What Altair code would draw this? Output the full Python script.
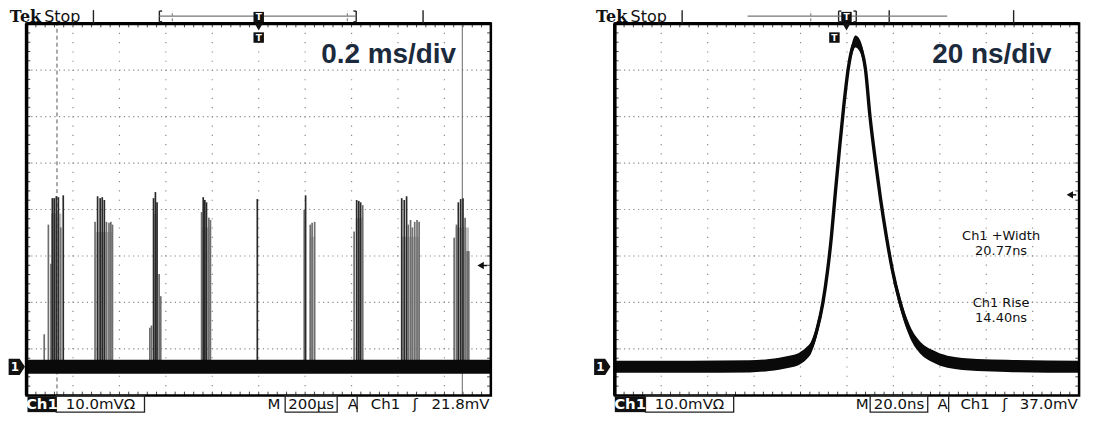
import altair as alt
import pandas as pd

# Left screen: 0.2 ms/div, 10 mV/div. Spikes of the bursts: time (µs from left edge), height (mV above ground)
SPIKE_T_US = [76, 94, 105, 111, 119, 128, 137, 147, 158,
              295, 306, 317, 326, 335, 344, 355, 363, 370,
              531, 538, 547, 555, 562, 571, 578,
              754, 761, 768, 775, 785, 792,
              994,
              1196, 1202, 1222, 1230, 1241,
              1411, 1422, 1431, 1439, 1448,
              1616, 1627, 1637, 1644, 1654, 1662, 1672, 1682, 1691,
              1842, 1852, 1860, 1870, 1880, 1889, 1898, 1905]
SPIKE_MV = [7.0, 30.6, 22.2, 36.3, 36.3, 36.7, 36.5, 30.0, 36.9,
            31.2, 36.7, 36.3, 36.5, 35.9, 31.2, 31.0, 31.2, 30.6,
            8.4, 8.9, 36.3, 37.6, 35.4, 20.0, 15.2,
            33.3, 36.5, 35.9, 35.4, 32.1, 31.6,
            36.1,
            33.8, 36.9, 30.6, 31.0, 31.2,
            29.1, 35.9, 35.7, 35.4, 34.8,
            36.3, 35.9, 36.7, 30.6, 31.6, 30.0, 31.2, 31.6, 31.2,
            27.8, 30.6, 35.4, 36.1, 36.3, 32.1, 24.9, 24.9]
BURST_START_US = [105, 300, 545, 757, 1220, 1418, 1614, 1848]
BURST_END_US = [150, 372, 565, 792, 1242, 1450, 1692, 1906]
BURST_CORE_MV = [33, 29, 33, 30, 28, 32, 28, 30]
SCREEN_US = [0, 2000]
NOISE_MV_L = 1.5
CURSOR_DASHED_US = [131]
CURSOR_SOLID_US = [1877]

# Right screen: 20 ns/div, 10 mV/div. Single pulse: time (ns from left edge), mV above ground
PULSE_T_NS = [0, 32.4, 58.0, 66.5, 75.1, 79.3, 82.7, 84.4, 87.0, 89.6,
              91.6, 93.3, 95.0, 96.7, 98.6, 100.6, 102.3, 103.6, 104.9, 107.9,
              110.0, 112.2, 114.5, 117.0, 119.5, 122.8, 127.1, 131.8, 136.9, 143.3,
              156.1, 168.9, 200.0]
PULSE_MV = [0, 0, 0.1, 0.4, 1.1, 1.7, 3.0, 4.0, 7.8, 13.7,
            20.5, 28.0, 37.5, 46.5, 56.0, 64.3, 68.6, 70.0, 69.6, 64.3,
            53.5, 44.5, 36.0, 28.0, 21.0, 14.0, 7.6, 4.0, 2.3, 1.1,
            0.4, 0.2, 0]
NOISE_MV_R = 1.3

TIME_PER_DIV = {"L": 200.0, "R": 20.0}
MV_PER_DIV = 10.0
TRIG_LEVEL_MV = {"L": 21.8, "R": 37.0}
RATE_LABEL = {"L": "0.2 ms/div", "R": "20 ns/div"}
STATUS_TEXT = {
    "L": ["Ch1", "10.0mVΩ", "M", "200µs", "A", "Ch1", "ʃ", "21.8mV"],
    "R": ["Ch1", "10.0mVΩ", "M", "20.0ns", "A", "Ch1", "ʃ", "37.0mV"],
}
MEAS_TEXT = ["Ch1 +Width", "20.77ns", "Ch1 Rise", "14.40ns"]

# ---------------- layout (in screen divisions) ----------------
W = {"L": 555, "R": 521}
H = 405
PXD_X = 46.6
X_DOM = {"L": [-0.4, -0.4 + W["L"] / PXD_X], "R": [10.02 - W["R"] / PXD_X, 10.02]}
Y_DOM = [-0.384, 8.2985]
GND = 0.615
GRID = "#8a8a8a"

HDR = {
    "L": dict(vlines=[1.44, 8.54], line=(2.86, 7.10), lbr=2.86, rbr=7.10, ticks=[3.14, 6.91],
              mark=5.0, tek=-0.36, stop=0.38, tbox=5.0, gmark=-0.21, label_x=7.8, arrow=9.78),
    "R": dict(vlines=[1.45, 5.91, 8.59], line=(2.86, 7.16), lbr=4.82, rbr=5.20, ticks=[4.22],
              mark=4.99, tek=-0.405, stop=0.34, tbox=4.73, gmark=-0.27, label_x=8.12, arrow=9.8),
}
FOOT = {
    "L": dict(ch=(0.02, 0.64), vbox=(0.64, 2.54), tbox=(5.57, 6.69), bar=7.12,
              xs=[0.33, 1.59, 5.33, 6.13, 7.03, 7.73, 8.37]),
    "R": dict(ch=(0.0, 0.66), vbox=(0.66, 2.56), tbox=(5.5, 6.74), bar=7.19,
              xs=[0.33, 1.61, 5.33, 6.12, 7.06, 7.76, 8.40]),
}


def build(s):
    xsc = alt.Scale(domain=X_DOM[s], nice=False, zero=False)
    ysc = alt.Scale(domain=Y_DOM, nice=False, zero=False)

    def ex(f="x"):
        return alt.X(f"{f}:Q", scale=xsc, axis=None)

    def ey(f="y"):
        return alt.Y(f"{f}:Q", scale=ysc, axis=None)

    def seg(df, **kw):
        return alt.Chart(df).mark_rule(**kw).encode(x=ex(), x2=alt.X2("x2"), y=ey(), y2=alt.Y2("y2"))

    def box(df, **kw):
        return alt.Chart(df).mark_rect(**kw).encode(x=ex(), x2=alt.X2("x2"), y=ey(), y2=alt.Y2("y2"))

    def txt(df, **kw):
        return alt.Chart(df).mark_text(**kw).encode(x=ex(), y=ey(), text="text:N")

    tpd = TIME_PER_DIV[s]
    h = HDR[s]
    f = FOOT[s]
    L = []

    # graticule
    gx = list(range(1, 10))
    L.append(seg(pd.DataFrame({"x": gx, "x2": gx, "y": [0] * 9, "y2": [8] * 9}),
                 color=GRID, strokeWidth=1.2, strokeDash=[1.2, 8.1]))
    gy = list(range(1, 8))
    L.append(seg(pd.DataFrame({"x": [0] * 7, "x2": [10] * 7, "y": gy, "y2": gy}),
                 color=GRID, strokeWidth=1.2, strokeDash=[1.2, 3.45]))
    rows = []
    for k in range(1, 50):
        xk = k * 0.2
        rows += [(xk, xk, 8, 7.92), (xk, xk, 0, 0.08)]
    for k in range(1, 40):
        yk = k * 0.2
        rows += [(0, 0.08, yk, yk), (9.92, 10, yk, yk)]
    L.append(seg(pd.DataFrame(rows, columns=["x", "x2", "y", "y2"]), color="#444", strokeWidth=1))

    # signal
    if s == "L":
        L.append(seg(pd.DataFrame({"t": CURSOR_DASHED_US})
                     .assign(y=0, y2=8)
                     .pipe(lambda d: d.assign(x=d.t / tpd, x2=d.t / tpd)),
                     color="#555", strokeWidth=1, strokeDash=[4, 3]))
        L.append(seg(pd.DataFrame({"t": CURSOR_SOLID_US})
                     .assign(y=0, y2=8)
                     .pipe(lambda d: d.assign(x=d.t / tpd, x2=d.t / tpd)),
                     color="#666", strokeWidth=1))
        L.append(alt.Chart(pd.DataFrame({"t0": BURST_START_US, "t1": BURST_END_US, "mv": BURST_CORE_MV}))
                 .transform_calculate(x=f"datum.t0/{tpd}", x2=f"datum.t1/{tpd}",
                                      y=f"{GND}", y2=f"{GND}+datum.mv/{MV_PER_DIV}")
                 .mark_rect(color="#8a8a8a", opacity=0.55)
                 .encode(x=ex(), x2=alt.X2("x2"), y=ey(), y2=alt.Y2("y2")))
        L.append(alt.Chart(pd.DataFrame({"t": SPIKE_T_US, "mv": SPIKE_MV}))
                 .transform_calculate(x=f"datum.t/{tpd}", y=f"{GND}+datum.mv/{MV_PER_DIV}", y2=f"{GND}")
                 .mark_rule(strokeWidth=1.7)
                 .encode(x=ex(), y=ey(), y2=alt.Y2("y2"),
                         color=alt.when(alt.datum.mv >= 35).then(alt.value("#2a2a2a"))
                         .otherwise(alt.value("#6e6e6e"))))
        L.append(alt.Chart(pd.DataFrame({"t0": [SCREEN_US[0]], "t1": [SCREEN_US[1]]}))
                 .transform_calculate(x=f"datum.t0/{tpd}", x2=f"datum.t1/{tpd}",
                                      y=f"{GND}-{NOISE_MV_L}/{MV_PER_DIV}",
                                      y2=f"{GND}+{NOISE_MV_L}/{MV_PER_DIV}")
                 .mark_rect(color="#0a0a0a")
                 .encode(x=ex(), x2=alt.X2("x2"), y=ey(), y2=alt.Y2("y2")))
    else:
        pdf = pd.DataFrame({"t": PULSE_T_NS, "mv": PULSE_MV})
        L.append(alt.Chart(pdf)
                 .transform_calculate(x=f"datum.t/{tpd}",
                                      y=f"{GND}+(datum.mv-{NOISE_MV_R})/{MV_PER_DIV}",
                                      y2=f"{GND}+(datum.mv+{NOISE_MV_R})/{MV_PER_DIV}")
                 .mark_area(color="#0a0a0a", interpolate="monotone")
                 .encode(x=ex(), y=ey(), y2=alt.Y2("y2")))
        L.append(alt.Chart(pdf)
                 .transform_calculate(x=f"datum.t/{tpd}", y=f"{GND}+datum.mv/{MV_PER_DIV}")
                 .mark_line(color="#0a0a0a", strokeWidth=3.4, interpolate="monotone")
                 .encode(x=ex(), y=ey()))
        mdf = pd.DataFrame({"x": [8.32] * 4, "y": [3.43, 3.10, 1.99, 1.66], "text": MEAS_TEXT})
        L.append(txt(mdf, font="DejaVu Sans", fontSize=13, color="#111", align="center", baseline="middle"))

    # frame
    L.append(box(pd.DataFrame({"x": [0], "x2": [10], "y": [0], "y2": [8]}),
                 fillOpacity=0, stroke="black", strokeWidth=2.5))
    L.append(seg(pd.DataFrame({"x": [0, 0], "x2": [10, 0], "y": [8, 0], "y2": [8, 8]}),
                 color="black", strokeWidth=3.5))

    # header
    hv = h["vlines"]
    hrows = [(v, v, 8.0, 8.29) for v in hv]
    hrows += [(h["lbr"], h["lbr"], 8.04, 8.27), (h["lbr"], h["lbr"] + 0.06, 8.04, 8.04),
              (h["lbr"], h["lbr"] + 0.06, 8.27, 8.27),
              (h["rbr"], h["rbr"], 8.04, 8.27), (h["rbr"] - 0.06, h["rbr"], 8.04, 8.04),
              (h["rbr"] - 0.06, h["rbr"], 8.27, 8.27)]
    L.append(seg(pd.DataFrame(hrows, columns=["x", "x2", "y", "y2"]), color="#222", strokeWidth=1.4))
    L.append(seg(pd.DataFrame({"x": [h["line"][0]], "x2": [h["line"][1]], "y": [8.16], "y2": [8.16]}),
                 color="#777", strokeWidth=1.2))
    L.append(seg(pd.DataFrame({"x": h["ticks"], "x2": h["ticks"],
                               "y": [8.05] * len(h["ticks"]), "y2": [8.27] * len(h["ticks"])}),
                 color="#888", strokeWidth=1.2, strokeDash=[3, 2]))
    L.append(txt(pd.DataFrame({"x": [h["tek"]], "y": [8.03], "text": ["Tek"]}),
                 font="DejaVu Serif", fontWeight="bold", fontSize=16, color="#111",
                 align="left", baseline="alphabetic"))
    L.append(txt(pd.DataFrame({"x": [h["stop"]], "y": [8.03], "text": ["Stop"]}),
                 font="DejaVu Sans", fontSize=16, color="#111", align="left", baseline="alphabetic"))
    # trigger position markers
    mk = pd.DataFrame({"x": [h["mark"], h["tbox"]], "y": [8.14, 7.70]})
    L.append(alt.Chart(mk).mark_point(shape="square", filled=True, color="#111", size=110, opacity=1)
             .encode(x=ex(), y=ey()))
    L.append(txt(mk.assign(text="T"), font="DejaVu Sans", fontWeight="bold", fontSize=9,
                 color="white", align="center", baseline="middle"))
    L.append(alt.Chart(pd.DataFrame({"x": [h["mark"]], "y": [7.93]}))
             .mark_point(shape="triangle-down", filled=True, color="#111", size=70, opacity=1)
             .encode(x=ex(), y=ey()))
    # trigger level arrow
    ty = GND + TRIG_LEVEL_MV[s] / MV_PER_DIV
    L.append(alt.Chart(pd.DataFrame({"x": [h["arrow"]], "y": [ty]}))
             .mark_point(shape="triangle-left", filled=True, color="#111", size=55, opacity=1)
             .encode(x=ex(), y=ey()))
    L.append(seg(pd.DataFrame({"x": [h["arrow"]], "x2": [h["arrow"] + 0.14], "y": [ty], "y2": [ty]}),
                 color="#111", strokeWidth=1.5))
    # ground marker
    gm = pd.DataFrame({"x": [h["gmark"]], "y": [GND]})
    L.append(alt.Chart(gm).mark_point(shape="M -1 -1 L 0.35 -1 L 1 0 L 0.35 1 L -1 1 Z",
                                      filled=True, color="#111", size=270, opacity=1)
             .encode(x=ex(), y=ey()))
    L.append(txt(gm.assign(x=h["gmark"] - 0.04, text="1"), font="DejaVu Sans", fontWeight="bold",
                 fontSize=12, color="white", align="center", baseline="middle"))

    # big rate label
    L.append(txt(pd.DataFrame({"x": [h["label_x"]], "y": [7.32], "text": [RATE_LABEL[s]]}),
                 font="Liberation Sans", fontWeight="bold", fontSize=28, color="#1b2a3c",
                 align="center", baseline="middle"))

    # status bar
    L.append(box(pd.DataFrame({"x": [f["ch"][0]], "x2": [f["ch"][1]], "y": [-0.36], "y2": [-0.02]}),
                 color="#111"))
    L.append(box(pd.DataFrame({"x": [f["vbox"][0], f["tbox"][0]], "x2": [f["vbox"][1], f["tbox"][1]],
                               "y": [-0.36, -0.36], "y2": [0, 0]}),
                 fillOpacity=0, stroke="#222", strokeWidth=1.3))
    L.append(seg(pd.DataFrame({"x": [f["bar"]], "x2": [f["bar"]], "y": [-0.36], "y2": [0]}),
                 color="#222", strokeWidth=1.3))
    st = STATUS_TEXT[s]
    L.append(txt(pd.DataFrame({"x": [f["xs"][0]], "y": [-0.19], "text": [st[0]]}),
                 font="DejaVu Sans", fontWeight="bold", fontSize=15, color="white",
                 align="center", baseline="middle"))
    L.append(txt(pd.DataFrame({"x": f["xs"][1:], "y": [-0.19] * 6, "text": st[1:7]}),
                 font="DejaVu Sans", fontSize=15, color="#111", align="center", baseline="middle"))
    L.append(txt(pd.DataFrame({"x": [9.97], "y": [-0.19], "text": [st[7]]}),
                 font="DejaVu Sans", fontSize=15, color="#111", align="right", baseline="middle"))

    return alt.layer(*L).properties(width=W[s], height=H)


chart = (
    alt.hconcat(build("L"), build("R"), spacing=0)
    .properties(padding=0)
    .configure_view(strokeWidth=0)
)
chart.save("out.html", embed_options={"renderer": "svg", "actions": False})
